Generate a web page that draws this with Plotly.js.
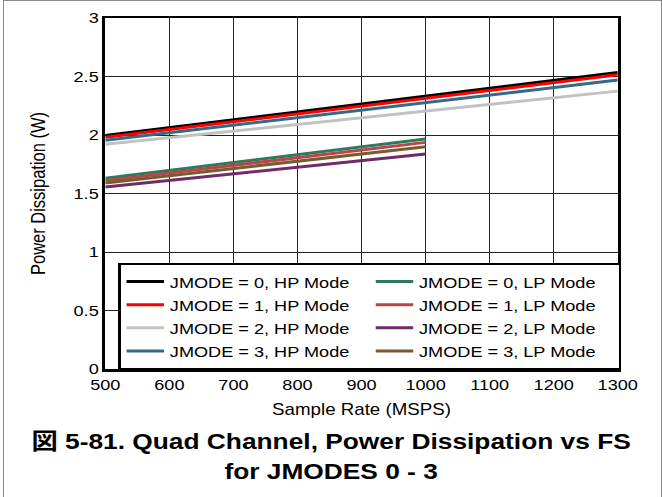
<!DOCTYPE html>
<html><head><meta charset="utf-8">
<script src="https://cdn.plot.ly/plotly-3.0.1.min.js"></script>
<style>
html,body{margin:0;padding:0;background:#fff;overflow:hidden;width:662px;height:497px;}
#wrap{position:absolute;left:0;top:0;width:566px;height:497px;transform:scaleX(1.17);transform-origin:0 0;}
#frame{position:absolute;left:3px;top:0px;width:657px;height:520px;border:1px solid #8a8a8a;pointer-events:none;}
</style></head>
<body>
<div id="wrap"><div id="chart" style="width:566px;height:497px;"></div></div>
<div id="frame"></div>
<script>
// Sample rate (MSPS)
const sampleRateHP = [500, 1300];
const sampleRateLP = [500, 1000];

// Power dissipation (W)
const hpJmode0 = [1.995, 2.535];
const hpJmode1 = [1.98, 2.515];
const hpJmode2 = [1.92, 2.375];
const hpJmode3 = [1.955, 2.47];
const lpJmode0 = [1.63, 1.965];
const lpJmode1 = [1.61, 1.937];
const lpJmode2 = [1.555, 1.837];
const lpJmode3 = [1.59, 1.90];

const xTicks = [500, 600, 700, 800, 900, 1000, 1100, 1200, 1300];
const yTicks = [0, 0.5, 1, 1.5, 2, 2.5, 3];
const yTickLabels = ['0', '0.5', '1', '1.5', '2', '2.5', '3'];

const names = [
  'JMODE = 0, HP Mode', 'JMODE = 0, LP Mode',
  'JMODE = 1, HP Mode', 'JMODE = 1, LP Mode',
  'JMODE = 2, HP Mode', 'JMODE = 2, LP Mode',
  'JMODE = 3, HP Mode', 'JMODE = 3, LP Mode'
];
const xs = [sampleRateHP, sampleRateLP, sampleRateHP, sampleRateLP, sampleRateHP, sampleRateLP, sampleRateHP, sampleRateLP];
const ys = [hpJmode0, lpJmode0, hpJmode1, lpJmode1, hpJmode2, lpJmode2, hpJmode3, lpJmode3];
const colors = ['#000000', '#2e7a5a', '#ff0000', '#b5474b', '#c2c2c2', '#6f2c6b', '#326b85', '#7a5a2e'];

const FONT = 'Liberation Sans, Arial, Helvetica, sans-serif';

const traces = names.map((n, i) => ({
  type: 'scatter', mode: 'lines', name: n,
  x: xs[i], y: ys[i],
  line: {color: colors[i], width: 3}
}));

const layout = {
  width: 566, height: 497,
  margin: {l: 90, r: 38, t: 18, b: 128},
  paper_bgcolor: '#ffffff', plot_bgcolor: '#ffffff',
  font: {family: FONT, color: '#000', size: 15.5},
  showlegend: true,
  legend: {
    orientation: 'h', x: 0.0255, xanchor: 'left', y: 0.302, yanchor: 'top',
    bordercolor: '#000', borderwidth: 2, bgcolor: '#ffffff',
    entrywidth: 166, entrywidthmode: 'pixels', itemwidth: 32,
    font: {family: FONT, size: 15.5, color: '#000'}
  },
  xaxis: {
    range: [500, 1300], tickvals: xTicks, ticks: '',
    showgrid: true, gridcolor: '#222', gridwidth: 1,
    showline: true, linecolor: '#000', linewidth: 2.5, mirror: true,
    zeroline: false,
    tickfont: {family: FONT, size: 15.5},
    title: {text: 'Sample Rate (MSPS)', font: {family: FONT, size: 16}, standoff: 12}
  },
  yaxis: {
    range: [0, 3], tickvals: yTicks, ticktext: yTickLabels, ticks: '',
    showgrid: true, gridcolor: '#222', gridwidth: 1,
    showline: true, linecolor: '#000', linewidth: 2.5, mirror: true,
    zeroline: false,
    tickfont: {family: FONT, size: 15.5},
    title: {text: 'Power Dissipation (W)', font: {family: FONT, size: 16.5}, standoff: 20}
  },
  title: {
    text: '<b>図 5-81. Quad Channel, Power Dissipation vs FS<br>for JMODES 0 - 3</b>',
    font: {family: 'Liberation Sans, Arial, Noto Sans CJK JP, sans-serif', size: 22.5, color: '#000'},
    x: 0.5, xanchor: 'center', xref: 'container',
    y: 0.096, yanchor: 'top', yref: 'container'
  }
};

Plotly.newPlot('chart', traces, layout, {displayModeBar: false, staticPlot: true});
</script>
</body></html>
